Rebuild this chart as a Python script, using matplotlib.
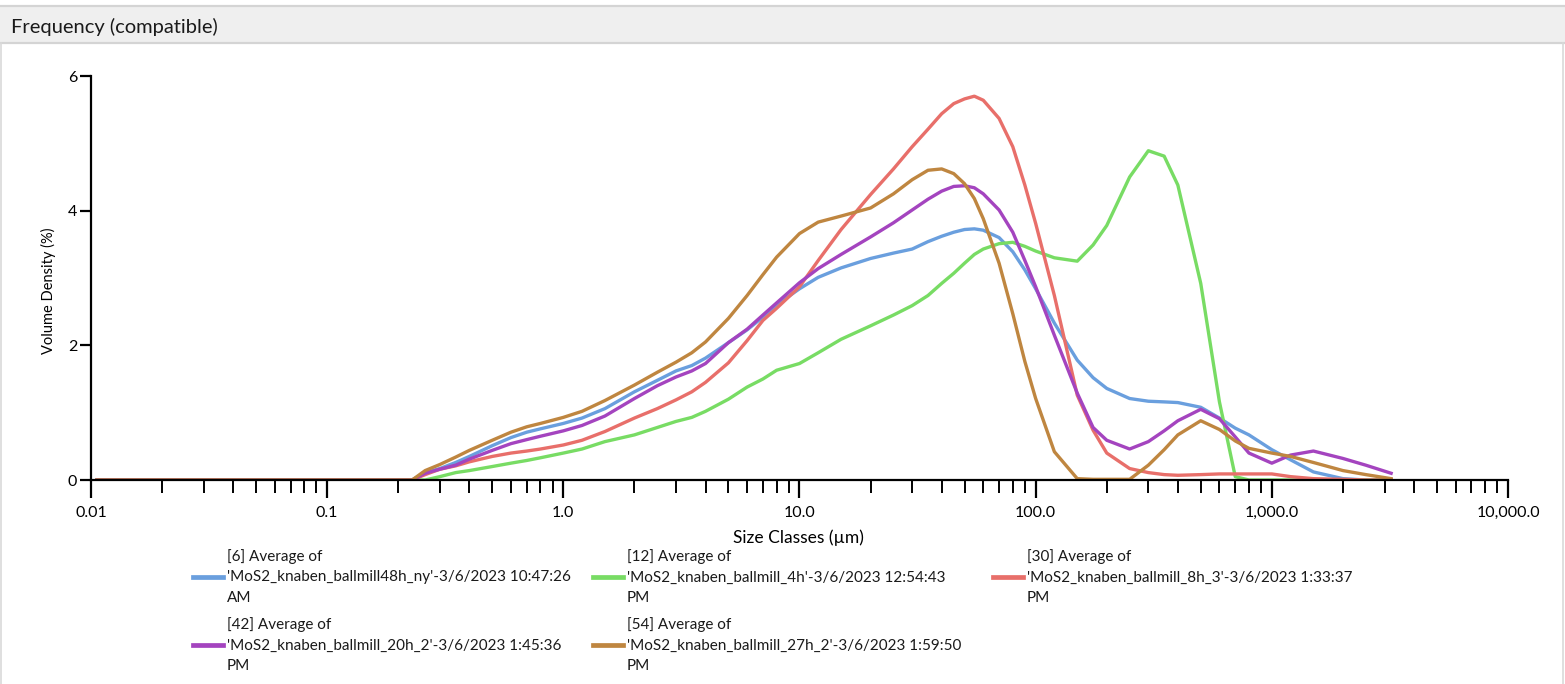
import matplotlib
matplotlib.use("Agg")
import matplotlib.pyplot as plt
from matplotlib.lines import Line2D
from matplotlib.patches import Rectangle
from matplotlib.ticker import FixedLocator, LogLocator, NullFormatter

plt.rcParams['font.family'] = ['Lato', 'DejaVu Sans']

# size classes (um) and volume density (%) per run
size_um = [0.0106, 0.229, 0.26, 0.3, 0.35, 0.4, 0.5, 0.6, 0.7, 0.8, 1.0, 1.2, 1.5, 2.0, 2.5,
           3.0, 3.5, 4.0, 5.0, 6.0, 7.0, 8.0, 10, 12, 15, 20, 25, 30, 35, 40, 45, 50, 55, 60,
           70, 80, 90, 100, 120, 150, 175, 200, 250, 300, 350, 400, 500, 600, 700, 800, 1000,
           1200, 1500, 2000, 2500, 3200]

mill_48h = [0, 0, 0.11, 0.17, 0.26, 0.35, 0.51, 0.63, 0.71, 0.76, 0.84, 0.92, 1.06, 1.31, 1.48,
            1.62, 1.70, 1.81, 2.04, 2.23, 2.42, 2.60, 2.84, 3.01, 3.15, 3.29, 3.37, 3.43, 3.54, 3.62,
            3.68, 3.72, 3.73, 3.71, 3.60, 3.39, 3.12, 2.84, 2.33, 1.78, 1.52, 1.36, 1.21, 1.17, 1.16,
            1.15, 1.08, 0.92, 0.77, 0.67, 0.45, 0.30, 0.12, 0.02, 0.0, 0.0]
mill_4h = [0, 0, 0.0, 0.05, 0.11, 0.14, 0.20, 0.25, 0.29, 0.33, 0.40, 0.46, 0.57, 0.67, 0.78,
           0.87, 0.93, 1.02, 1.20, 1.38, 1.50, 1.63, 1.73, 1.89, 2.09, 2.29, 2.45, 2.59, 2.74, 2.92,
           3.07, 3.22, 3.35, 3.43, 3.51, 3.53, 3.47, 3.40, 3.30, 3.25, 3.49, 3.78, 4.50, 4.89, 4.81,
           4.38, 2.92, 1.16, 0.05, 0.0, 0.0, 0.0, 0.0, 0.0, 0.0, 0.0]
mill_8h = [0, 0, 0.08, 0.16, 0.21, 0.27, 0.35, 0.40, 0.43, 0.46, 0.52, 0.59, 0.72, 0.92, 1.06,
           1.19, 1.31, 1.45, 1.74, 2.07, 2.37, 2.55, 2.87, 3.26, 3.72, 4.24, 4.62, 4.95, 5.21, 5.44,
           5.59, 5.66, 5.70, 5.64, 5.37, 4.95, 4.38, 3.81, 2.74, 1.26, 0.74, 0.40, 0.17, 0.11, 0.08,
           0.07, 0.08, 0.09, 0.09, 0.09, 0.09, 0.05, 0.02, 0.01, 0.0, 0.0]
mill_20h = [0, 0, 0.10, 0.16, 0.22, 0.31, 0.44, 0.54, 0.60, 0.65, 0.73, 0.81, 0.95, 1.21, 1.40,
            1.53, 1.62, 1.73, 2.04, 2.24, 2.45, 2.63, 2.93, 3.14, 3.35, 3.61, 3.82, 4.01, 4.17, 4.29,
            4.36, 4.37, 4.34, 4.25, 4.01, 3.68, 3.26, 2.87, 2.15, 1.29, 0.78, 0.59, 0.46, 0.57, 0.73,
            0.88, 1.05, 0.91, 0.64, 0.40, 0.25, 0.37, 0.43, 0.32, 0.22, 0.10]
mill_27h = [0, 0, 0.14, 0.23, 0.34, 0.44, 0.59, 0.71, 0.79, 0.84, 0.93, 1.02, 1.18, 1.41, 1.60,
            1.75, 1.89, 2.05, 2.40, 2.74, 3.05, 3.31, 3.66, 3.83, 3.92, 4.04, 4.25, 4.46, 4.60, 4.62,
            4.55, 4.40, 4.18, 3.88, 3.22, 2.47, 1.76, 1.21, 0.42, 0.02, 0.01, 0.01, 0.01, 0.22, 0.45,
            0.67, 0.88, 0.75, 0.58, 0.47, 0.40, 0.35, 0.26, 0.14, 0.08, 0.02]

series = [mill_48h, mill_4h, mill_8h, mill_20h, mill_27h]
colors = ['#6A9FDE', '#78DC64', '#E86F6A', '#A444BF', '#BF8640']
labels = [
    "[6] Average of\n'MoS2_knaben_ballmill48h_ny'-3/6/2023 10:47:26\nAM",
    "[12] Average of\n'MoS2_knaben_ballmill_4h'-3/6/2023 12:54:43\nPM",
    "[30] Average of\n'MoS2_knaben_ballmill_8h_3'-3/6/2023 1:33:37\nPM",
    "[42] Average of\n'MoS2_knaben_ballmill_20h_2'-3/6/2023 1:45:36\nPM",
    "[54] Average of\n'MoS2_knaben_ballmill_27h_2'-3/6/2023 1:59:50\nPM",
]

x_ticks = [0.01, 0.1, 1, 10, 100, 1000, 10000]
x_ticklabels = ['0.01', '0.1', '1.0', '10.0', '100.0', '1,000.0', '10,000.0']
y_ticks = [0, 2, 4, 6]

W, H = 1565, 684
fig = plt.figure(figsize=(W / 100, H / 100), dpi=100)

# title bar
fig.add_artist(Rectangle((0, (H - 43) / H), 1, 37 / H, transform=fig.transFigure,
                         facecolor='#EFEFEF', edgecolor='none'))
for yy in (H - 6, H - 42.5):
    fig.add_artist(Line2D([0, 1], [yy / H, yy / H], transform=fig.transFigure,
                          color='#D4D4D4', lw=1.6))
fig.add_artist(Line2D([0.5 / W, 0.5 / W], [0, (H - 43) / H], transform=fig.transFigure,
                      color='#D9D9D9', lw=1.2))
fig.add_artist(Line2D([1 - 2.5 / W, 1 - 2.5 / W], [0, (H - 43) / H], transform=fig.transFigure,
                      color='#D9D9D9', lw=1.2))
fig.text(11 / W, 1 - 27 / H, 'Frequency (compatible)', fontsize=14.5, va='center', ha='left',
         color='#1A1A1A')

ax = fig.add_axes([91 / W, (H - 480) / H, 1417 / W, 404 / H])
for s, c in zip(series, colors):
    ax.plot(size_um, s, color=c, lw=2.4, solid_joinstyle='round')

ax.set_xscale('log')
ax.set_xlim(0.01, 10000)
ax.set_ylim(0, 6)
ax.spines['top'].set_visible(False)
ax.spines['right'].set_visible(False)
for sp in ('left', 'bottom'):
    ax.spines[sp].set_linewidth(1.6)
    ax.spines[sp].set_color('black')

ax.xaxis.set_major_locator(FixedLocator(x_ticks))
ax.set_xticklabels(x_ticklabels)
ax.xaxis.set_minor_locator(LogLocator(base=10, subs=range(2, 10), numticks=20))
ax.xaxis.set_minor_formatter(NullFormatter())
ax.set_yticks(y_ticks)
ax.tick_params(axis='x', which='major', direction='out', length=13, width=1.6,
               labelsize=11.5, pad=6)
ax.tick_params(axis='x', which='minor', direction='out', length=9, width=1.4)
ax.tick_params(axis='y', which='major', direction='out', length=8, width=1.6,
               labelsize=11.5, pad=2)
ax.set_xlabel('Size Classes (µm)', fontsize=12.5)
ax.set_ylabel('Volume Density (%)', fontsize=10.5)
ax.xaxis.set_label_coords(0.499, -0.144)
ax.yaxis.set_label_coords(-0.0303, 0.468)
ax.xaxis.label.set_va('center')
ax.yaxis.label.set_va('center')

# legend laid out row by row, three columns
col_x = [193, 593, 993]
row_y = [577, 645]
for i, (c, lab) in enumerate(zip(colors, labels)):
    cx = col_x[i % 3]
    cy = row_y[i // 3]
    fig.add_artist(Line2D([cx / W, (cx + 30) / W], [1 - cy / H, 1 - cy / H],
                          transform=fig.transFigure, color=c, lw=3.4))
    fig.text((cx + 34) / W, 1 - cy / H, lab, fontsize=11, va='center', ha='left',
             linespacing=1.62, color='#1A1A1A')

fig.savefig('out.png', dpi=100)
